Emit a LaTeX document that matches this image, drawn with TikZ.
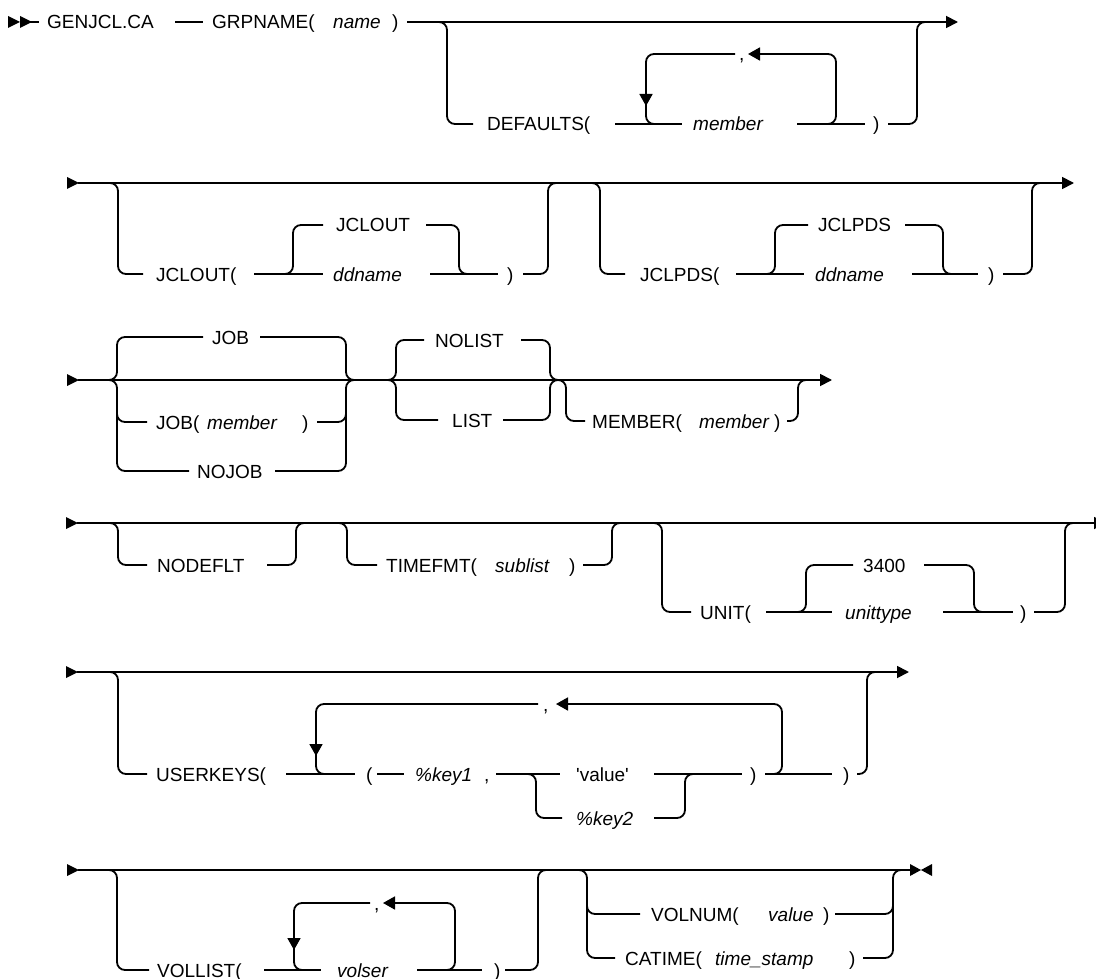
\documentclass[tikz,border=0pt]{standalone}
\usepackage{fontspec}
\setmainfont{Liberation Sans}
\newfontfamily\quotefont{Liberation Sans}
\usetikzlibrary{arrows.meta}
\newcommand{\railfont}{\fontsize{19}{23}\selectfont}

\begin{document}
\begin{tikzpicture}[
  x=1pt, y=-1pt,
  rail/.style={line width=1.8pt, rounded corners=8pt},
  kw/.style={anchor=base west, inner sep=0pt, yshift=-7pt, font=\railfont},
  var/.style={kw, font=\railfont\itshape},
  cont/.style={rail, -{Triangle[length=12pt,width=12pt]}},
  back/.style={rail, -{Triangle[length=12pt,width=13pt]}},
  loopar/.style={line width=1.8pt, -{Triangle[length=12pt,width=13pt]}},
]
\useasboundingbox (0,0) rectangle (1096,979);

% ---- main line of each row ----
\def\ra{22}   % GENJCL.CA
\def\rb{183}  % JCLOUT / JCLPDS
\def\rc{380}  % JOB / LIST / MEMBER
\def\rd{523}  % NODEFLT / TIMEFMT / UNIT
\def\re{672}  % USERKEYS
\def\rf{870}  % VOLLIST / VOLNUM

% =====================================================
% ROW 1
% =====================================================
\fill (8,16) -- (20,22) -- (8,28) -- cycle;
\fill (20,16) -- (32,22) -- (20,28) -- cycle;
\draw[rail] (30,\ra) -- (39,\ra);
\node[kw] (genjcl) at (47,\ra) {GENJCL.CA};
\draw[rail] (175,\ra) -- (203,\ra);
\node[kw] (grpname) at (212,\ra) {GRPNAME(};
\node[var] (name) at (333,\ra) {name};
\node[kw] (grpclose) at (392,\ra) {)};
\draw[cont] (407,\ra) -- (958,\ra);

\draw[rail] (430,\ra) -- (447,\ra) -- (447,124) -- (473,124);
\node[kw] (defaults) at (487,124) {DEFAULTS(};
\draw[rail] (615,124) -- (682,124);
% repeat loop
\draw[rail] (735,54) -- (646,54) -- (646,124) -- (672,124);
\draw[loopar] (646,80) -- (646,106);
\node[kw] (dfcomma) at (739,54) {,};
\draw[back] (822,124) -- (836,124) -- (836,54) -- (748,54);
\node[var] (dfmember) at (693,124) {member};
\draw[rail] (797,124) -- (865,124);
\node[kw] (dfclose) at (873,124) {)};
\draw[rail] (888,124) -- (917,124) -- (917,\ra) -- (930,\ra);

% =====================================================
% ROW 2
% =====================================================
\fill (67,177) -- (79,183) -- (67,189) -- cycle;
\draw[cont] (78,\rb) -- (1074,\rb);

\draw[rail] (100,\rb) -- (118,\rb) -- (118,274) -- (143,274);
\node[kw] (jclout) at (156,274) {JCLOUT(};
\draw[rail] (254,274) -- (323,274);
\draw[rail] (280,274) -- (293,274) -- (293,225) -- (323,225);
\node[kw] (jcloutdef) at (336,225) {JCLOUT};
\node[var] (jcloutdd) at (333,274) {ddname};
\draw[rail] (426,225) -- (459,225) -- (459,274) -- (472,274);
\draw[rail] (430,274) -- (498,274);
\node[kw] (jcloutclose) at (507,274) {)};
\draw[rail] (523,274) -- (548,274) -- (548,\rb) -- (560,\rb);

\draw[rail] (582,\rb) -- (600,\rb) -- (600,274) -- (625,274);
\node[kw] (jclpds) at (640,274) {JCLPDS(};
\draw[rail] (736,274) -- (804,274);
\draw[rail] (762,274) -- (775,274) -- (775,225) -- (808,225);
\node[kw] (jclpdsdef) at (818,225) {JCLPDS};
\node[var] (jclpdsdd) at (815,274) {ddname};
\draw[rail] (905,225) -- (943,225) -- (943,274) -- (956,274);
\draw[rail] (912,274) -- (978,274);
\node[kw] (jclpdsclose) at (988,274) {)};
\draw[rail] (1003,274) -- (1032,274) -- (1032,\rb) -- (1045,\rb);

% =====================================================
% ROW 3
% =====================================================
\fill (67,374) -- (79,380) -- (67,386) -- cycle;
\draw[cont] (78,\rc) -- (832,\rc);

\draw[rail] (100,\rc) -- (117,\rc) -- (117,337) -- (203,337);
\draw[rail] (100,\rc) -- (117,\rc) -- (117,471) -- (189,471);
\draw[rail] (117,400) -- (117,422) -- (147,422);
\node[kw] (job) at (212,337) {JOB};
\node[kw] (jobm) at (156,422) {JOB(};
\node[var] (jobmem) at (207,422) {member};
\node[kw] (jobclose) at (302,422) {)};
\node[kw] (nojob) at (197,471) {NOJOB};
\draw[rail] (260,337) -- (346,337) -- (346,\rc) -- (362,\rc);
\draw[rail] (275,471) -- (346,471) -- (346,\rc) -- (362,\rc);
\draw[rail] (317,422) -- (346,422) -- (346,400);

\draw[rail] (375,\rc) -- (396,\rc) -- (396,340) -- (424,340);
\draw[rail] (375,\rc) -- (396,\rc) -- (396,420) -- (438,420);
\node[kw] (nolist) at (435,340) {NOLIST};
\node[kw] (list) at (452,420) {LIST};
\draw[rail] (521,340) -- (550,340) -- (550,\rc) -- (558,\rc);
\draw[rail] (503,420) -- (550,420) -- (550,\rc) -- (558,\rc);

\draw[rail] (555,\rc) -- (566,\rc) -- (566,421) -- (585,421);
\node[kw] (member) at (592,421) {MEMBER(};
\node[var] (memname) at (699,421) {member};
\node[kw] (memclose) at (774,421) {)};
\draw[rail] (787,421) -- (798,421) -- (798,\rc) -- (810,\rc);

% =====================================================
% ROW 4
% =====================================================
\fill (66,517) -- (78,523) -- (66,529) -- cycle;
\draw[cont] (77,\rd) -- (1106,\rd);

\draw[rail] (100,\rd) -- (118,\rd) -- (118,565) -- (147,565);
\node[kw] (nodeflt) at (157,565) {NODEFLT};
\draw[rail] (267,565) -- (296,565) -- (296,\rd) -- (310,\rd);

\draw[rail] (330,\rd) -- (347,\rd) -- (347,565) -- (377,565);
\node[kw] (timefmt) at (386,565) {TIMEFMT(};
\node[var] (sublist) at (495,565) {sublist};
\node[kw] (tfclose) at (569,565) {)};
\draw[rail] (583,565) -- (612,565) -- (612,\rd) -- (625,\rd);

\draw[rail] (645,\rd) -- (662,\rd) -- (662,612) -- (691,612);
\node[kw] (unit) at (700,612) {UNIT(};
\draw[rail] (766,612) -- (832,612);
\draw[rail] (792,612) -- (806,612) -- (806,565) -- (853,565);
\node[kw] (unitdef) at (863,565) {3400};
\node[var] (unittype) at (845,612) {unittype};
\draw[rail] (924,565) -- (974,565) -- (974,612) -- (988,612);
\draw[rail] (943,612) -- (1013,612);
\node[kw] (unitclose) at (1020,612) {)};
\draw[rail] (1034,612) -- (1065,612) -- (1065,\rd) -- (1078,\rd);

% =====================================================
% ROW 5
% =====================================================
\fill (66,666) -- (78,672) -- (66,678) -- cycle;
\draw[cont] (77,\re) -- (909,\re);

\draw[rail] (100,\re) -- (118,\re) -- (118,774) -- (147,774);
\node[kw] (userkeys) at (156,774) {USERKEYS(};
\draw[rail] (286,774) -- (355,774);
% repeat loop
\draw[rail] (538,704) -- (316,704) -- (316,774) -- (340,774);
\draw[loopar] (316,728) -- (316,756);
\node[kw] (ukcomma) at (543,704) {,};
\draw[back] (770,774) -- (782,774) -- (782,704) -- (556,704);
\node[kw] (ukopen) at (366,774) {(};
\draw[rail] (377,774) -- (404,774);
\node[var] (keyone) at (415,774) {\%key1};
\node[kw] (keycomma) at (484,774) {,};
\draw[rail] (496,774) -- (560,774);
\draw[rail] (522,774) -- (536,774) -- (536,818) -- (562,818);
\node[kw] (value) at (576,774) {\quotefont 'value'};
\node[var] (keytwo) at (576,818) {\%key2};
\draw[rail] (654,818) -- (685,818) -- (685,774) -- (700,774);
\draw[rail] (654,774) -- (742,774);
\node[kw] (ukclose) at (750,774) {)};
\draw[rail] (765,774) -- (832,774);
\node[kw] (ukend) at (843,774) {)};
\draw[rail] (857,774) -- (867,774) -- (867,\re) -- (880,\re);

% =====================================================
% ROW 6
% =====================================================
\fill (67,864) -- (79,870) -- (67,876) -- cycle;
\draw[rail] (78,\rf) -- (912,\rf);
\fill (910,864) -- (921,870) -- (910,876) -- cycle;
\fill (932,864) -- (921,870) -- (932,876) -- cycle;

\draw[rail] (100,\rf) -- (117,\rf) -- (117,970) -- (149,970);
\node[kw] (vollist) at (157,970) {VOLLIST(};
\draw[rail] (264,970) -- (321,970);
% repeat loop
\draw[rail] (370,903) -- (294,903) -- (294,970) -- (310,970);
\draw[loopar] (294,924) -- (294,950);
\node[kw] (vlcomma) at (374,903) {,};
\draw[back] (440,970) -- (455,970) -- (455,903) -- (383,903);
\node[var] (volser) at (337,970) {volser};
\draw[rail] (417,970) -- (482,970);
\node[kw] (vlclose) at (494,970) {)};
\draw[rail] (505,970) -- (538,970) -- (538,\rf) -- (550,\rf);

\draw[rail] (570,\rf) -- (587,\rf) -- (587,958) -- (615,958);
\draw[rail] (587,900) -- (587,914) -- (640,914);
\node[kw] (volnum) at (651,914) {VOLNUM(};
\node[var] (volval) at (768,914) {value};
\node[kw] (vnclose) at (823,914) {)};
\draw[rail] (835,914) -- (893,914) -- (893,895);
\node[kw] (catime) at (625,958) {CATIME(};
\node[var] (stamp) at (715,958) {time\_stamp};
\node[kw] (ctclose) at (849,958) {)};
\draw[rail] (863,958) -- (893,958) -- (893,\rf) -- (905,\rf);

\end{tikzpicture}
\end{document}
